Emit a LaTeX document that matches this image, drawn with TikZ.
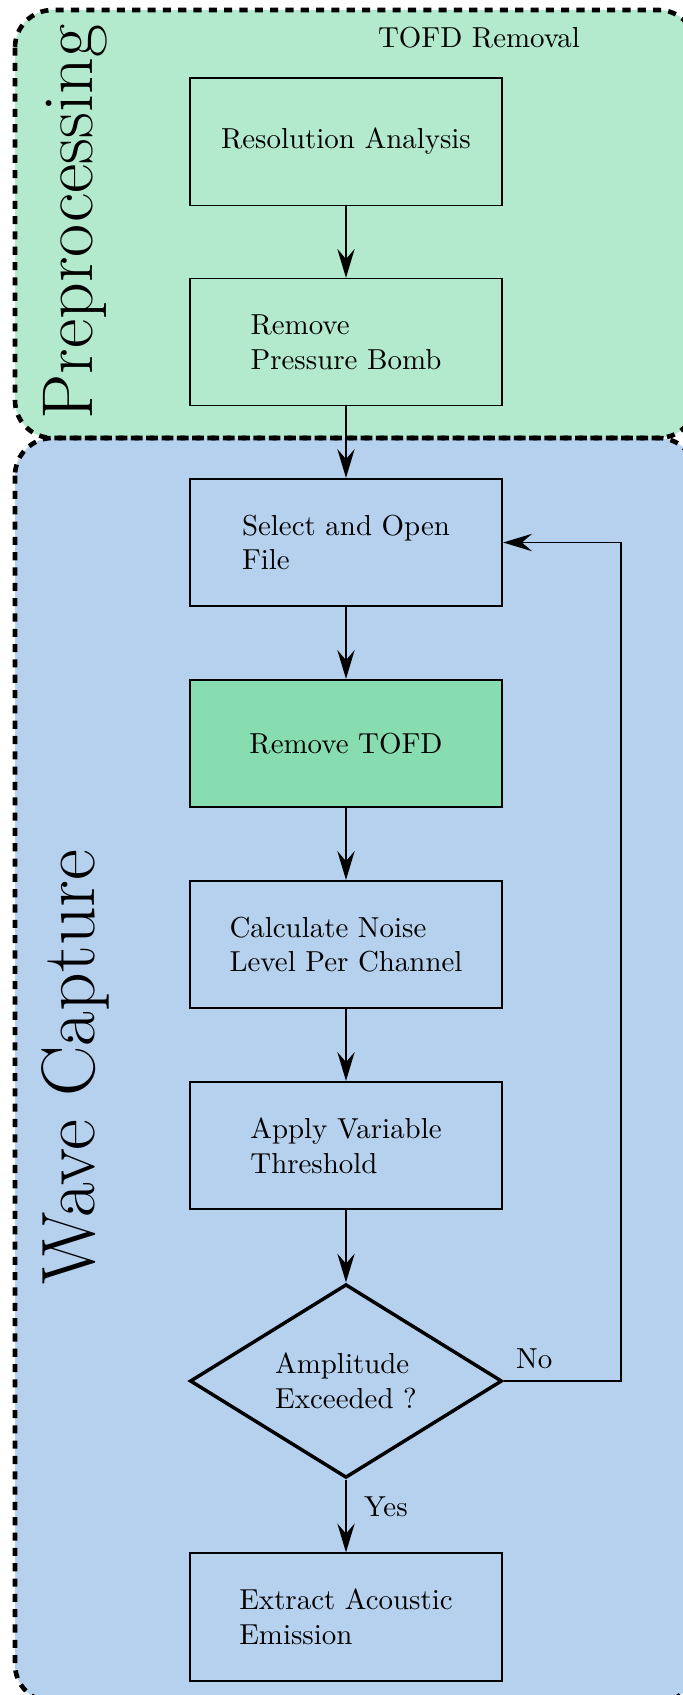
\documentclass[tikz,border=0pt]{standalone}
\usetikzlibrary{shapes.geometric,arrows.meta}
\definecolor{grpgreen}{RGB}{179,233,204}
\definecolor{grpblue}{RGB}{182,209,238}
\definecolor{tofdgreen}{RGB}{136,221,176}
\begin{document}
\begin{tikzpicture}[x=0.346pt,y=-0.346pt,
  grp/.style={rounded corners=13pt},
  grpborder/.style={draw=black, line width=1.6pt, dash pattern=on 2.8pt off 2.5pt, rounded corners=13pt},
  prebox/.style={draw, thin, minimum width=108pt, minimum height=44pt, align=left, inner sep=2pt},
  wavebox/.style={draw, line width=0.7pt, minimum width=108pt, minimum height=44pt, align=left, inner sep=2pt},
  decision/.style={draw, line width=1.2pt, shape=diamond, aspect=1.61, minimum width=108pt, minimum height=67pt, inner sep=0pt, align=left},
  arr/.style={semithick, -{Stealth[length=10pt,width=6pt,inset=3.5pt]}},
  grptitle/.style={rotate=90, inner sep=0pt}
]
\useasboundingbox (0,0) rectangle (683,1695);
\begin{scope}
\clip (0,0) rectangle (683,1695);
\fill[grpgreen, grp] (15,10) rectangle (696,438);
\fill[grpblue, grp] (15,438) rectangle (696,1702);
\draw[grpborder] (15,10) rectangle (696,438);
\draw[grpborder] (15,438) rectangle (696,1702);
\end{scope}

\node[grptitle, font=\Huge] (pretitle) at (75,222) {Preprocessing};
\node[grptitle, font=\fontsize{26.2}{30}\selectfont] (wavetitle) at (75,1067) {Wave Capture};
\node (tofdlbl) at (479,38) {TOFD Removal};

\node[prebox] (res) at (346,141.5) {Resolution Analysis};
\node[prebox] (bomb) at (346,342) {Remove\\Pressure Bomb};
\node[wavebox] (select) at (346,542.5) {Select and Open\\File};
\node[wavebox, fill=tofdgreen] (tofd) at (346,743.5) {Remove TOFD};
\node[wavebox] (noise) at (346,944.5) {Calculate Noise\\Level Per Channel};
\node[wavebox] (thresh) at (346,1145.5) {Apply Variable\\Threshold};
\node[decision] (dec) at (346,1381) {Amplitude\\Exceeded ?};
\node[wavebox] (extract) at (346,1617) {Extract Acoustic\\Emission};
\coordinate (loopc) at (621,1381);

\draw[arr] (res) -- (bomb);
\draw[arr] (bomb) -- (select);
\draw[arr] (select) -- (tofd);
\draw[arr] (tofd) -- (noise);
\draw[arr] (noise) -- (thresh);
\draw[arr] (thresh) -- (dec);
\draw[arr] (dec) -- node[pos=0.38, right, inner sep=6pt] (yeslbl) {Yes} (extract);
\draw[arr] (dec.east) -- node[pos=0, above right, inner sep=4pt] (nolbl) {No} (loopc) |- (select.east);
\end{tikzpicture}
\end{document}
